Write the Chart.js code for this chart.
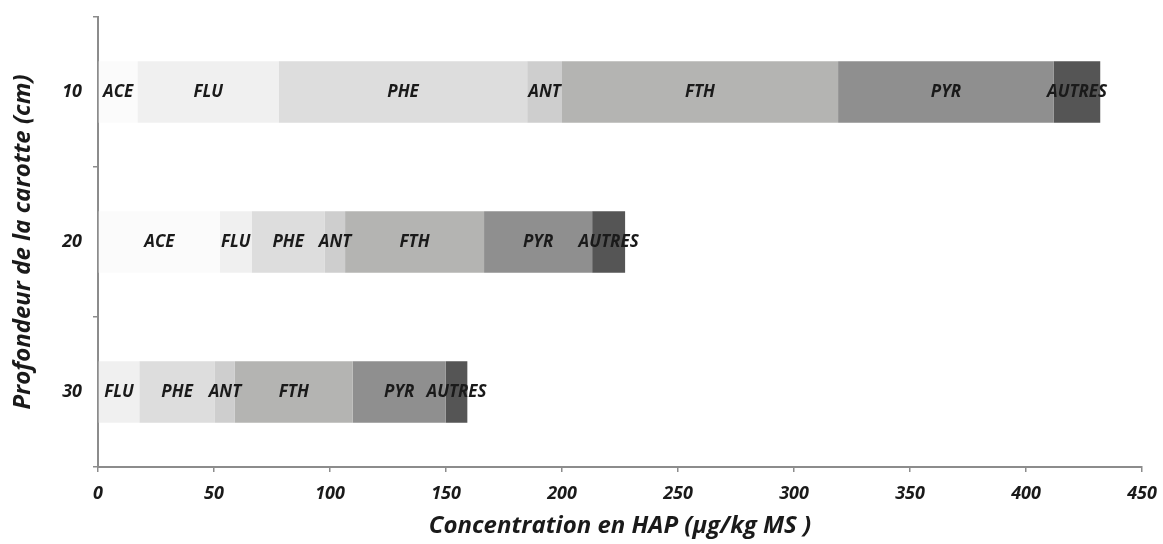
<!DOCTYPE html>
<html>
<head>
<meta charset="utf-8">
<script src="https://cdn.jsdelivr.net/npm/chart.js@4.4.1/dist/chart.umd.min.js"></script>
<style>
  html, body { margin: 0; padding: 0; background: #ffffff; }
  #wrap { width: 1163px; height: 544px; position: relative; }
</style>
</head>
<body>
<div id="wrap"><canvas id="c"></canvas></div>
<script>
// Categories (core depth, cm)
const depths = ['10', '20', '30'];
// PAH concentrations (µg/kg MS)
const ACE    = [17, 52.6, 0];
const FLU    = [61, 13.6, 17.8];
const PHE    = [107, 31.6, 32.6];
const ANT    = [15, 8.7, 8.6];
const FTH    = [119, 59.9, 50.8];
const PYR    = [93, 46.6, 40.1];
const AUTRES = [20, 14.2, 9.3];
const seriesNames = ['ACE', 'FLU', 'PHE', 'ANT', 'FTH', 'PYR', 'AUTRES'];
const seriesValues = [ACE, FLU, PHE, ANT, FTH, PYR, AUTRES];
const seriesColors = ['#fbfbfb', '#f0f0f0', '#dddddd', '#cecece', '#b4b4b2', '#8f8f8f', '#555555'];
const xTickMin = 0, xTickMax = 450, xTickStep = 50;

const FONT = "'Open Sans', 'Noto Sans', sans-serif";

const segmentLabels = {
  id: 'segmentLabels',
  afterDatasetsDraw(chart) {
    const ctx = chart.ctx;
    ctx.save();
    ctx.font = 'italic bold 17px ' + FONT;
    ctx.fillStyle = '#1a1a1a';
    ctx.textAlign = 'center';
    ctx.textBaseline = 'middle';
    chart.data.datasets.forEach((ds, di) => {
      const meta = chart.getDatasetMeta(di);
      meta.data.forEach((el, i) => {
        const v = ds.data[i];
        if (!v) return;
        const p = el.getProps(['x', 'base', 'y'], true);
        ctx.fillText(ds.label, (p.x + p.base) / 2, p.y);
      });
    });
    ctx.restore();
  }
};

new Chart(document.getElementById('c'), {
  type: 'bar',
  data: {
    labels: depths,
    datasets: seriesNames.map((name, k) => ({
      label: name,
      data: seriesValues[k],
      backgroundColor: seriesColors[k],
      borderWidth: 0,
      barPercentage: 0.41,
      categoryPercentage: 1.0
    }))
  },
  options: {
    indexAxis: 'y',
    responsive: true,
    maintainAspectRatio: false,
    animation: false,
    layout: { padding: { top: 17, right: 21, left: 0, bottom: 0 } },
    plugins: {
      legend: { display: false },
      tooltip: { enabled: false }
    },
    scales: {
      x: {
        stacked: true,
        min: xTickMin,
        max: xTickMax,
        ticks: {
          stepSize: xTickStep,
          color: '#1a1a1a',
          font: { family: FONT, size: 18, style: 'italic', weight: 'bold' },
          padding: 11
        },
        grid: { display: true, drawOnChartArea: false, drawTicks: true, tickLength: 5, color: '#8c8c8c', lineWidth: 1.5 },
        border: { display: true, color: '#8c8c8c', width: 2 },
        title: {
          display: true,
          text: 'Concentration en HAP (µg/kg MS )',
          color: '#1a1a1a',
          font: { family: FONT, size: 24, style: 'italic', weight: 'bold' },
          padding: { top: 0, bottom: 3 }
        },
        afterFit(scale) {
          scale.height = 77;
          scale.paddingLeft = 0;
          scale.paddingRight = 0;
        }
      },
      y: {
        stacked: true,
        ticks: {
          color: '#1a1a1a',
          font: { family: FONT, size: 18, style: 'italic', weight: 'bold' },
          padding: 11
        },
        grid: { display: true, drawOnChartArea: false, drawTicks: true, tickLength: 5, color: '#8c8c8c', lineWidth: 1.5, offset: true },
        border: { display: true, color: '#8c8c8c', width: 2 },
        title: {
          display: true,
          text: 'Profondeur de la carotte (cm)',
          color: '#1a1a1a',
          font: { family: FONT, size: 24, style: 'italic', weight: 'bold' },
          padding: { top: 9, bottom: 0 }
        },
        afterFit(scale) {
          scale.width = 98;
          scale.paddingTop = 0;
          scale.paddingBottom = 0;
        }
      }
    }
  },
  plugins: [segmentLabels]
});
</script>
</body>
</html>
